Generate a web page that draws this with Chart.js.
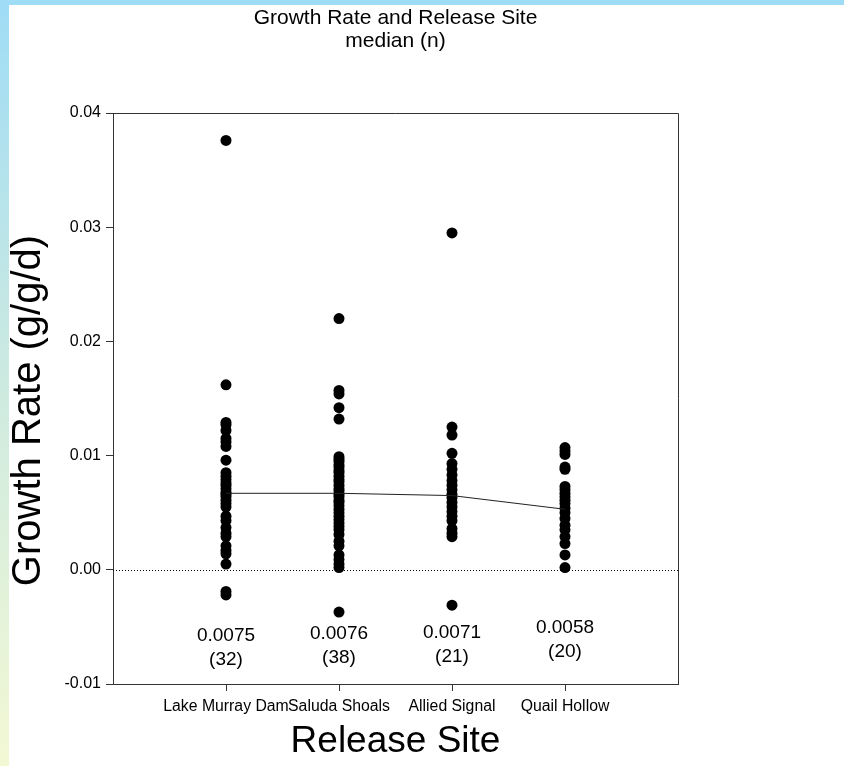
<!DOCTYPE html>
<html>
<head>
<meta charset="utf-8">
<title>Growth Rate and Release Site</title>
<script src="https://cdn.jsdelivr.net/npm/chart.js@4.4.1/dist/chart.umd.min.js"></script>
<style>
  html, body { margin: 0; padding: 0; background: #fff; }
  #chart { display: block; }
</style>
</head>
<body>
<canvas id="chart" width="844" height="766"></canvas>
<script>
// categories and tick labels
const sites = ["Lake Murray Dam", "Saluda Shoals", "Allied Signal", "Quail Hollow"];
const yTicks = [-0.01, 0.00, 0.01, 0.02, 0.03, 0.04];

// growth rate per fish (g/g/d)
const lakeMurray = [0.0376, 0.0162, 0.0129, 0.0127, 0.0122, 0.0115, 0.0112, 0.0108, 0.0096, 0.0085,
    0.0082, 0.0079, 0.0076, 0.0074, 0.0071, 0.0068, 0.0066, 0.0064, 0.0061, 0.0058,
    0.0055, 0.0047, 0.0043, 0.0037, 0.0032, 0.0029, 0.0021, 0.0017, 0.0014, 0.0005,
    -0.0019, -0.0022];
const saludaShoals = [0.0220, 0.0157, 0.0154, 0.0142, 0.0132, 0.0099, 0.0097, 0.0095, 0.0092, 0.0090,
    0.0087, 0.0085, 0.0082, 0.0079, 0.0077, 0.0074, 0.0071, 0.0069, 0.0066, 0.0064,
    0.0061, 0.0059, 0.0056, 0.0053, 0.0050, 0.0047, 0.0044, 0.0041, 0.0038, 0.0035,
    0.0031, 0.0025, 0.0021, 0.0013, 0.0009, 0.0005, 0.0002, -0.0037];
const alliedSignal = [0.0295, 0.0125, 0.0118, 0.0102, 0.0093, 0.0088, 0.0083, 0.0078, 0.0074, 0.0070,
    0.0066, 0.0063, 0.0059, 0.0055, 0.0051, 0.0047, 0.0043, 0.0036, 0.0032, 0.0029,
    -0.0031];
const quailHollow = [0.0107, 0.0104, 0.0101, 0.0090, 0.0088, 0.0073, 0.0070, 0.0067, 0.0064, 0.0061,
    0.0058, 0.0054, 0.0050, 0.0045, 0.0039, 0.0035, 0.0029, 0.0023, 0.0013, 0.0002];

// connecting line through the sites
const centerLine = [0.0067, 0.0067, 0.0065, 0.0053];

// median and count printed under each column
const medianLabels = ["0.0075", "0.0076", "0.0071", "0.0058"];
const countLabels = ["(32)", "(38)", "(21)", "(20)"];

const FONT = "'Liberation Sans', Arial, sans-serif";
const AXIS = '#333';

const siteData = [lakeMurray, saludaShoals, alliedSignal, quailHollow];

const pointSets = siteData.map((values, i) => ({
    type: 'scatter',
    label: sites[i],
    data: values.map(v => ({ x: i + 1, y: v })),
    pointRadius: 5.5,
    pointBackgroundColor: '#000',
    pointBorderColor: '#000',
    pointBorderWidth: 0,
    showLine: false
}));

const lineSet = {
    type: 'line',
    label: 'center',
    data: centerLine.map((v, i) => ({ x: i + 1, y: v })),
    borderColor: '#222',
    borderWidth: 1,
    pointRadius: 0,
    tension: 0
};

// page background, frame strips, titles, box, zero line and the median texts
const decorPlugin = {
    id: 'decor',
    beforeDraw(chart) {
        const ctx = chart.ctx;
        ctx.save();
        ctx.fillStyle = '#fff';
        ctx.fillRect(0, 0, chart.width, chart.height);
        const grad = ctx.createLinearGradient(0, 0, 0, chart.height);
        grad.addColorStop(0, '#9fdcf6');
        grad.addColorStop(0.5, '#cdeae0');
        grad.addColorStop(1, '#f3f8d4');
        ctx.fillStyle = grad;
        ctx.fillRect(0, 0, 9, chart.height);
        ctx.fillStyle = '#9fdcf6';
        ctx.fillRect(0, 0, chart.width, 5);
        ctx.restore();
    },
    beforeDatasetsDraw(chart) {
        const { ctx, chartArea: a, scales: { y } } = chart;
        const y0 = y.getPixelForValue(0);
        ctx.save();
        ctx.strokeStyle = '#000';
        ctx.lineWidth = 1;
        ctx.setLineDash([1, 2]);
        ctx.beginPath();
        ctx.moveTo(a.left, Math.round(y0) + 0.5);
        ctx.lineTo(a.right, Math.round(y0) + 0.5);
        ctx.stroke();
        ctx.setLineDash([]);
        ctx.strokeStyle = AXIS;
        ctx.beginPath();
        ctx.moveTo(a.left, a.top + 0.5);
        ctx.lineTo(a.right + 0.5, a.top + 0.5);
        ctx.lineTo(a.right + 0.5, a.bottom);
        ctx.stroke();
        ctx.restore();
    },
    afterDatasetsDraw(chart) {
        const { ctx, chartArea: a, scales: { x } } = chart;
        const cx = (a.left + a.right) / 2;
        ctx.save();
        ctx.fillStyle = '#000';
        ctx.textAlign = 'center';
        ctx.textBaseline = 'middle';

        ctx.font = '21px ' + FONT;
        ctx.fillText('Growth Rate and Release Site', cx, 18);
        ctx.fillText('median (n)', cx, 41);

        ctx.font = '19px ' + FONT;
        const lift = [0, 2, 3, 8];
        medianLabels.forEach((t, i) => {
            const px = x.getPixelForValue(i + 1);
            ctx.fillText(t, px, a.bottom - 48 - lift[i]);
            ctx.fillText(countLabels[i], px, a.bottom - 24 - lift[i]);
        });

        // y axis title, sits a little below the plot centre
        ctx.save();
        ctx.translate(29, (a.top + a.bottom) / 2 + 12);
        ctx.rotate(-Math.PI / 2);
        ctx.font = '40px ' + FONT;
        ctx.fillText('Growth Rate (g/g/d)', 0, 0);
        ctx.restore();

        ctx.restore();
    }
};

new Chart(document.getElementById('chart'), {
    data: { datasets: [lineSet, ...pointSets] },
    options: {
        responsive: false,
        animation: false,
        events: [],
        layout: { padding: { left: 9, top: 113, right: 166, bottom: 0 } },
        plugins: {
            legend: { display: false },
            tooltip: { enabled: false },
            title: { display: false }
        },
        scales: {
            x: {
                type: 'linear',
                min: 0,
                max: 5,
                afterBuildTicks: scale => { scale.ticks = sites.map((s, i) => ({ value: i + 1 })); },
                afterFit: scale => { scale.height = 82; },
                ticks: {
                    color: '#000',
                    font: { family: FONT, size: 15.8 },
                    padding: 6,
                    maxRotation: 0,
                    autoSkip: false,
                    callback: v => sites[v - 1]
                },
                grid: { drawOnChartArea: false, tickLength: 7, tickColor: AXIS },
                border: { color: AXIS, width: 1 },
                title: {
                    display: true,
                    text: 'Release Site',
                    color: '#000',
                    font: { family: FONT, size: 37 },
                    padding: { top: 0, bottom: 2 }
                }
            },
            y: {
                type: 'linear',
                min: -0.01,
                max: 0.04,
                afterBuildTicks: scale => { scale.ticks = yTicks.map(v => ({ value: v })); },
                afterFit: scale => { scale.width = 104; },
                ticks: {
                    color: '#000',
                    font: { family: FONT, size: 16 },
                    padding: 5,
                    callback: v => v.toFixed(2)
                },
                grid: { drawOnChartArea: false, tickLength: 7, tickColor: AXIS },
                border: { color: AXIS, width: 1 }
            }
        }
    },
    plugins: [decorPlugin]
});
</script>
</body>
</html>
